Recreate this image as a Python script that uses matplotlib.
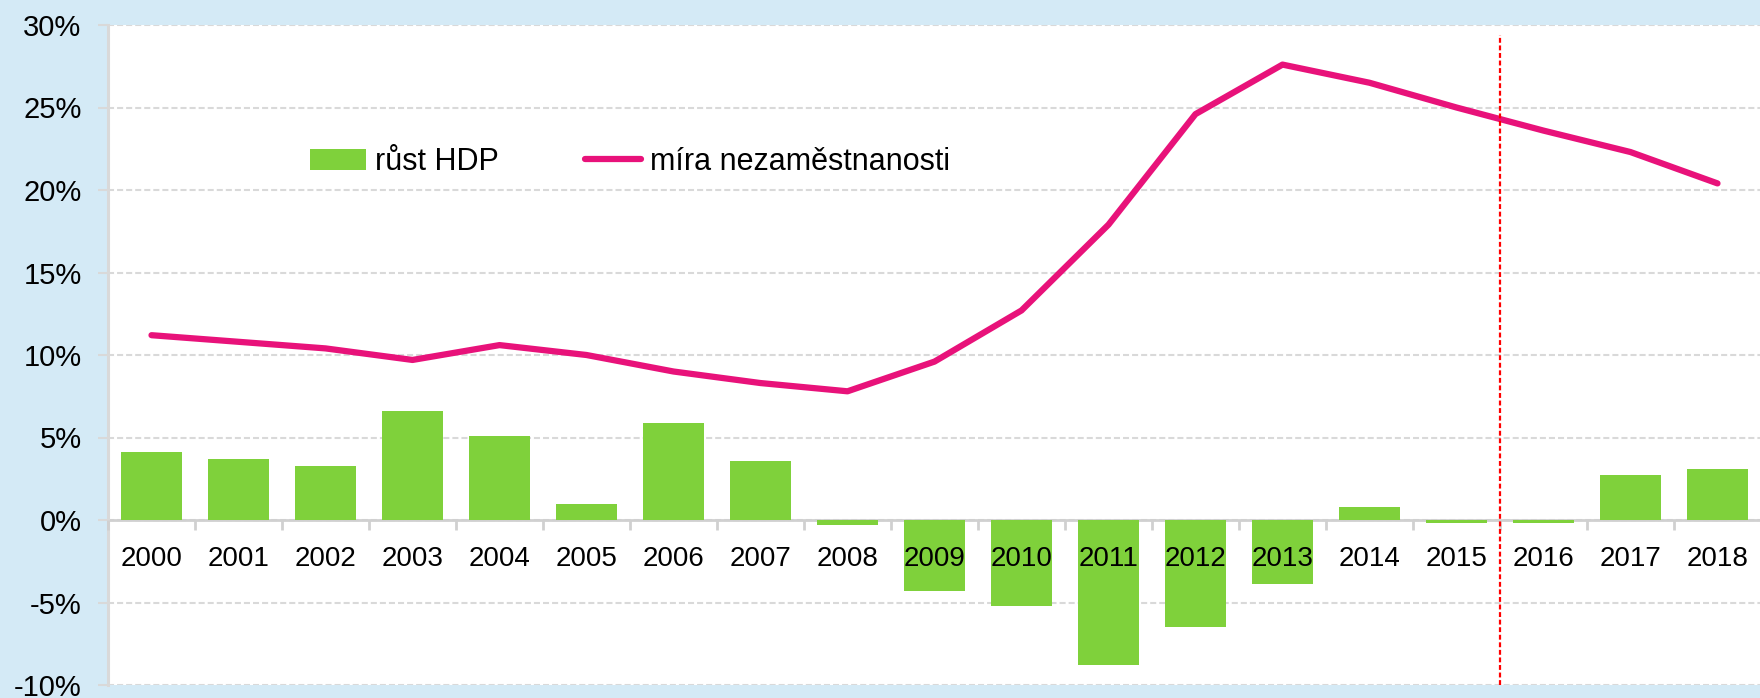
import matplotlib.pyplot as plt
import numpy as np

plt.rcParams['font.family'] = ['Liberation Sans', 'DejaVu Sans']

# data
years = [str(y) for y in range(2000, 2019)]
gdp_growth = [4.1, 3.7, 3.3, 6.6, 5.1, 0.95, 5.9, 3.6, -0.3, -4.3,
              -5.2, -8.8, -6.5, -3.9, 0.8, -0.2, -0.2, 2.7, 3.1]
unemployment = [11.2, 10.8, 10.4, 9.7, 10.6, 10.0, 9.0, 8.3, 7.8, 9.6,
                12.7, 17.9, 24.6, 27.6, 26.5, 25.0, 23.6, 22.3, 20.4]
yticks = [-10, -5, 0, 5, 10, 15, 20, 25, 30]
forecast_from = 2016

bg = '#d4eaf6'
green = '#7fd13b'
pink = '#e8127a'
grid_c = '#d9d9d9'
fs = 20

fig = plt.figure(figsize=(17.6, 6.98), dpi=100, facecolor=bg)
ax = fig.add_axes([108 / 1760, 13 / 698, 1653 / 1760, 660 / 698])
ax.set_facecolor('white')

x = np.arange(len(years))
bars = ax.bar(x, gdp_growth, width=0.71, color=green, label='růst HDP', zorder=3)
line, = ax.plot(x, unemployment, color=pink, lw=4.5, solid_capstyle='round',
                label='míra nezaměstnanosti', zorder=4)

# forecast divider
xd = years.index(str(forecast_from)) - 0.5
ax.plot([xd, xd], [-10, 29.4], color='red', lw=1.6, dashes=(2.2, 1.2), zorder=5)

ax.set_xlim(-0.5, len(years) - 0.5)
ax.set_ylim(-10, 30)
ax.set_yticks(yticks)
ax.set_yticklabels([f'{v}%' for v in yticks], fontsize=21)
ax.yaxis.grid(True, color=grid_c, lw=1.5, dashes=(2.9, 1.45), zorder=1)
ax.tick_params(axis='y', length=7, width=1.5, color=grid_c, pad=12)

# category axis sits on zero, labels drawn over the bars
ax.spines['bottom'].set_position(('data', 0))
ax.spines['bottom'].set_color('#d0d0d0')
ax.spines['bottom'].set_linewidth(2)
ax.spines['bottom'].set_zorder(2)
ax.set_xticks(x)
ax.set_xticklabels(years, fontsize=fs)
ax.set_xticks(np.arange(-0.5, len(years)), minor=True)
ax.tick_params(axis='x', which='major', length=0, pad=19)
ax.tick_params(axis='x', which='minor', length=7, width=2, color='#d0d0d0')
ax.xaxis.set_zorder(3.5)

ax.spines['left'].set_color(grid_c)
ax.spines['left'].set_linewidth(2.2)
ax.spines['top'].set_visible(False)
ax.spines['right'].set_visible(False)

ax.legend([bars, line], ['růst HDP', 'míra nezaměstnanosti'],
          loc='center left', bbox_to_anchor=(0.122, 0.792), ncol=2, frameon=False,
          fontsize=22, handlelength=1.85, handleheight=0.72, handletextpad=0.3,
          columnspacing=2.8, borderpad=0, borderaxespad=0)

fig.savefig('out.png', dpi=100, facecolor=bg)
